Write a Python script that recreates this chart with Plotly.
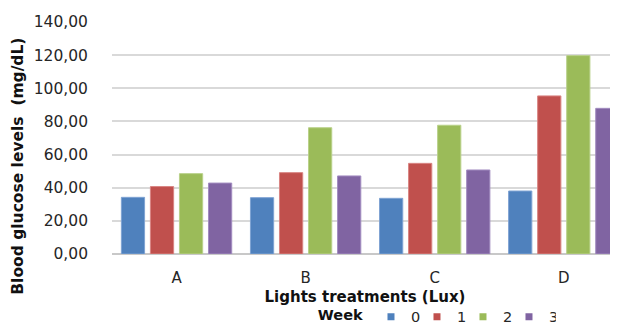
import plotly.graph_objects as go

categories = ["A", "B", "C", "D"]
weeks = ["0", "1", "2", "3"]
week0 = [34.2, 34.0, 33.6, 38.0]
week1 = [40.7, 49.1, 54.7, 95.4]
week2 = [48.5, 76.2, 77.7, 119.7]
week3 = [42.8, 47.1, 50.7, 87.9]
series = [week0, week1, week2, week3]
colors = ["#4F81BD", "#C0504D", "#9BBB59", "#8064A2"]
edge_colors = ["#7FA3D3", "#D98583", "#B9D18A", "#A28CC0"]
y_ticks = [0, 20, 40, 60, 80, 100, 120, 140]
y_tick_text = ["0,00", "20,00", "40,00", "60,00", "80,00", "100,00", "120,00", "140,00"]

FONT = "DejaVu Sans"

fig = go.Figure()
for name, vals, c, ec in zip(weeks, series, colors, edge_colors):
    fig.add_trace(go.Bar(
        x=categories, y=vals, name=name, showlegend=False,
        marker=dict(color=c, line=dict(color=ec, width=1)),
    ))
# legend entries with small square swatches
for name, c in zip(weeks, colors):
    fig.add_trace(go.Scatter(
        x=[None], y=[None], mode="markers", name=name,
        marker=dict(symbol="square", size=7, color=c),
    ))

# the page body has an 8px margin, so the figure is sized to end at the window edge
fig.update_layout(
    template="none",
    width=610, height=317,
    margin=dict(l=104, r=0, t=14, b=71, autoexpand=False),
    paper_bgcolor="white", plot_bgcolor="white",
    barmode="group", bargap=0.1, bargroupgap=0.2,
    font=dict(family=FONT, size=15, color="#262626"),
    showlegend=True,
    legend=dict(
        orientation="h", x=0.64, xanchor="center", y=-0.202, yanchor="top",
        title=dict(text="<b>Week</b>", font=dict(family=FONT, size=14.5, color="#111111")),
        font=dict(family=FONT, size=14.5, color="#262626"),
        itemwidth=30, tracegroupgap=0, entrywidth=1, entrywidthmode="pixels",
        bgcolor="rgba(0,0,0,0)",
    ),
    xaxis=dict(
        range=[-0.5, 3.42], showgrid=False, showline=False, zeroline=False,
        automargin=False, ticks="",
        tickfont=dict(family=FONT, size=15), ticklabelstandoff=13,
        title=dict(text="<b>Lights treatments (Lux)</b>", standoff=5,
                   font=dict(family=FONT, size=15, color="#111111")),
    ),
    yaxis=dict(
        range=[0, 140], tickvals=y_ticks, ticktext=y_tick_text,
        showgrid=True, gridcolor="#D9D9D9", gridwidth=1.5,
        zeroline=True, zerolinecolor="#C8C8C8", zerolinewidth=1.5,
        showline=False, automargin=False, ticks="",
        tickfont=dict(family=FONT, size=15.5),
        ticklabelstandoff=23,
    ),
    annotations=[dict(
        text="<b>Blood glucose levels  (mg/dL)</b>", textangle=-90,
        xref="paper", yref="paper", x=-0.186, y=0.38,
        xanchor="center", yanchor="middle", showarrow=False,
        font=dict(family=FONT, size=15.5, color="#111111"),
    )],
)

fig.write_html("out.html")
